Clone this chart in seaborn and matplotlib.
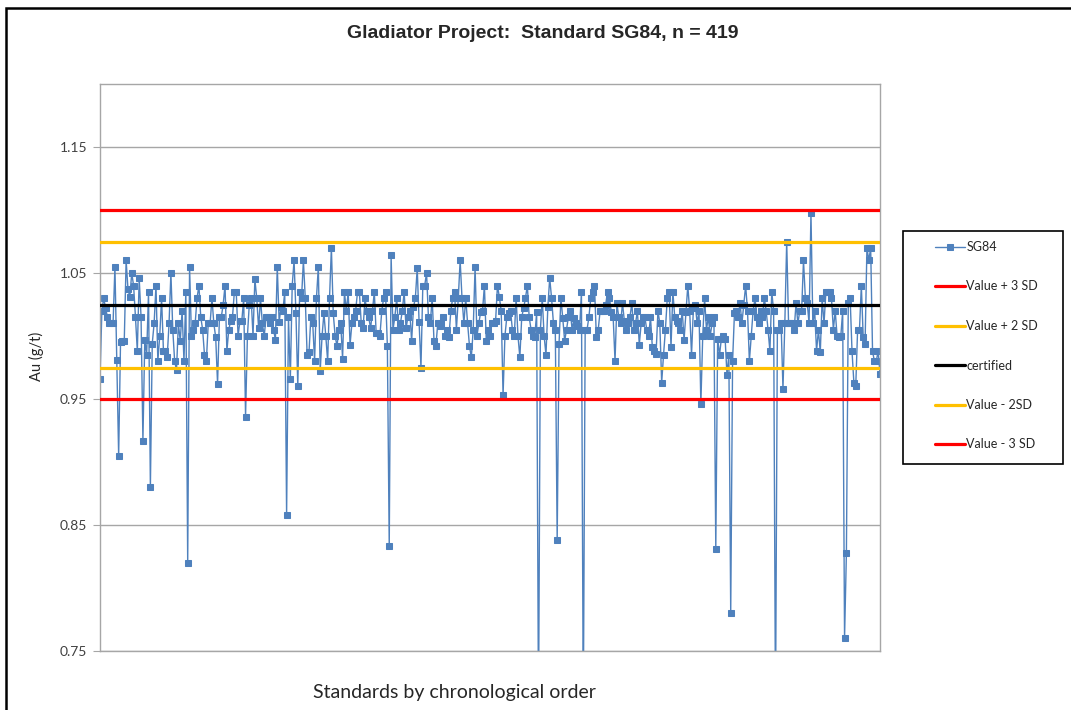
import numpy as np
import pandas as pd
import matplotlib
matplotlib.use('Agg')
import matplotlib.pyplot as plt
from matplotlib.patches import Rectangle
import seaborn as sns

# valori Au (g/t) dello standard SG84, in ordine cronologico
au_part1 = [0.966, 1.020, 1.030, 1.022, 1.015, 1.010, 1.010, 1.010, 1.055, 0.981,
            0.905, 0.995, 0.996, 0.996, 1.060, 1.037, 1.031, 1.050, 1.040, 1.015,
            0.988, 1.046, 1.015, 0.917, 0.997, 0.985, 1.035, 0.880, 0.994, 1.010,
            1.040, 0.980, 1.000, 1.030, 0.988, 0.988, 0.983, 1.010, 1.050, 1.005,
            0.980, 0.973, 1.010, 0.996, 1.020, 0.980, 1.035, 0.820, 1.055, 1.000,
            1.005, 1.010, 1.030, 1.040, 1.015, 1.005, 0.985, 0.980, 1.010, 1.010,
            1.030, 1.010, 0.999, 0.962, 1.015, 1.015, 1.025, 1.040, 0.988, 1.005]
au_part2 = [1.012, 1.015, 1.035, 1.035, 1.000, 1.012, 1.012, 1.030, 0.936, 1.000,
            1.025, 1.030, 1.000, 1.045, 1.030, 1.006, 1.030, 1.010, 1.000, 1.015,
            1.015, 1.010, 1.015, 1.005, 0.997, 1.055, 1.011, 1.023, 1.020, 1.035,
            0.858, 1.015, 0.966, 1.040, 1.060, 1.018, 0.960, 1.035, 1.030, 1.060,
            1.030, 0.985, 0.987, 1.015, 1.010, 0.980, 1.030, 1.055, 0.972, 1.000,
            1.018, 1.000, 0.980, 1.030, 1.070, 1.018, 1.000, 0.992, 1.005, 1.010,
            0.982, 1.035, 1.020, 1.035, 0.993, 1.010, 1.015, 1.020, 1.035, 1.035]
au_part3 = [1.010, 1.006, 1.030, 1.020, 1.015, 1.006, 1.020, 1.035, 1.002, 1.002,
            1.000, 1.020, 1.030, 1.035, 0.992, 0.833, 1.064, 1.005, 1.015, 1.030,
            1.005, 1.010, 1.020, 1.035, 1.006, 1.015, 1.020, 0.996, 1.023, 1.030,
            1.054, 1.011, 0.975, 1.040, 1.040, 1.050, 1.015, 1.010, 1.030, 0.996,
            0.992, 1.010, 1.008, 1.010, 1.015, 1.000, 1.005, 0.999, 1.020, 1.030,
            1.035, 1.005, 1.030, 1.060, 1.030, 1.010, 1.030, 1.010, 0.992, 0.983,
            1.005, 1.055, 1.000, 1.010, 1.019, 1.020, 1.040, 0.996, 1.005]
au_part4 = [1.000, 1.010, 1.010, 1.012, 1.040, 1.031, 1.020, 0.953, 1.000, 1.015, 1.018,
            1.020, 1.005, 1.000, 1.030, 1.000, 0.983, 1.015, 1.022, 1.030, 1.040,
            1.015, 1.005, 1.000, 0.999, 1.019, 0.700, 1.005, 1.030, 1.000, 0.985,
            1.023, 1.046, 1.030, 1.010, 1.005, 0.838, 0.994, 1.030, 1.014, 0.996,
            1.005, 1.015, 1.020, 1.005, 1.014, 1.010, 1.008, 1.005, 1.035, 0.700,
            1.005, 1.005, 1.015, 1.030, 1.035, 1.040, 0.999, 1.005, 1.020, 1.020,
            1.020, 1.025, 1.035, 1.030, 1.019, 1.015, 0.980, 1.026]
au_part5 = [1.015, 1.010, 1.026, 1.012, 1.005, 1.010, 1.015, 1.026, 1.005, 1.010,
            1.020, 0.993, 1.010, 1.015, 1.015, 1.005, 1.000, 1.015, 0.991, 0.988,
            0.986, 1.020, 1.010, 0.963, 0.985, 1.005, 1.030, 1.035, 0.991, 1.035,
            1.015, 1.012, 1.010, 1.005, 1.020, 0.997, 1.019, 1.040, 1.020, 0.985,
            1.022, 1.025, 1.010, 1.020, 0.946, 1.000, 1.030, 1.005, 1.015, 1.000,
            1.010, 1.015, 0.831, 0.998, 0.985, 0.998, 1.000, 0.998, 0.969, 0.985,
            0.780, 0.980, 1.018, 1.020, 1.015, 1.026, 1.010, 1.025, 1.040, 1.020,
            0.980]
au_part6 = [1.000, 1.020, 1.030, 1.015, 1.010, 1.020, 1.015, 1.030, 1.020, 1.005,
            0.988, 1.035, 1.020, 0.700, 1.005, 1.005, 1.010, 0.958, 1.010, 1.075,
            1.010, 1.010, 1.010, 1.005, 1.026, 1.010, 1.020, 1.020, 1.060, 1.030,
            1.026, 1.010, 1.098, 1.010, 1.020, 0.988, 1.005, 0.987, 1.030, 1.010,
            1.035, 1.035, 1.035, 1.030, 1.005, 1.020, 1.000, 0.999, 1.000, 1.020,
            0.760, 0.828, 1.026, 1.030, 0.988, 0.963, 0.960, 1.005, 1.005, 1.040,
            0.999, 0.994, 1.070, 1.060, 1.070, 0.988, 0.980, 0.980, 0.988, 0.970]
sg84 = au_part1 + au_part2 + au_part3 + au_part4 + au_part5 + au_part6

# linee di riferimento (certificato +/- SD)
ref_labels = ['Value + 3 SD', 'Value + 2 SD', 'certified', 'Value - 2SD', 'Value - 3 SD']
ref_values = [1.100, 1.075, 1.025, 0.975, 0.950]
ref_colors = ['#FF0000', '#FFC000', '#000000', '#FFC000', '#FF0000']
y_ticks = [0.75, 0.85, 0.95, 1.05, 1.15]

sns.set_style('white')
plt.rcParams['font.family'] = ['Lato', 'DejaVu Sans']

df = pd.DataFrame({'n': np.arange(len(sg84)), 'Au': sg84})

fig = plt.figure(figsize=(10.71, 7.10), dpi=100)
ax = fig.add_axes([100 / 1071, 1 - 651 / 710, 780 / 1071, 567 / 710])

sns.lineplot(data=df, x='n', y='Au', ax=ax, color='#4F81BD', lw=1.0,
             marker='s', markersize=4.5, markeredgecolor='#4F81BD',
             label='SG84', legend=False, zorder=2)

for v, c, lab in zip(ref_values, ref_colors, ref_labels):
    ax.axhline(v, color=c, lw=2.3, label=lab, zorder=3)

ax.set_xlim(0, len(sg84) - 1)
ax.set_ylim(0.75, 1.20)
ax.set_yticks(y_ticks)
ax.set_yticklabels([f'{t:.2f}' for t in y_ticks])
ax.set_xticks([])
ax.grid(axis='y', color='#A6A6A6', lw=1.0, zorder=0)
for s in ax.spines.values():
    s.set_color('#A6A6A6')
    s.set_linewidth(1.0)
ax.tick_params(axis='y', length=5, color='#A6A6A6', labelsize=10,
               labelcolor='#404040', pad=4, left=True)

ax.set_ylabel('Au (g/t)', fontsize=10.5, color='#262626')
ax.yaxis.set_label_coords(-0.072, 0.52)
ax.set_xlabel('Standards by chronological order', fontsize=14, color='#262626')
ax.xaxis.set_label_coords(0.455, -0.058)

fig.text(543 / 1071, 1 - 33 / 710, 'Gladiator Project:  Standard SG84, n = 419',
         ha='center', va='center', fontsize=14, fontweight='bold',
         family=['Liberation Sans Narrow', 'Liberation Sans', 'DejaVu Sans'])

# legenda con cornice disegnata a parte
handles, labels = ax.get_legend_handles_labels()
fig.legend(handles, labels, loc='upper left', bbox_to_anchor=(935 / 1071, 1 - 241 / 710),
           frameon=False, fontsize=9, labelspacing=2.2, handlelength=2.4,
           handletextpad=0.1, borderpad=0, borderaxespad=0)
fig.patches.append(Rectangle((903 / 1071, 1 - 464 / 710), 160 / 1071, 233 / 710,
                             transform=fig.transFigure, fill=False, ec='black', lw=1.2))

# cornice esterna del grafico
fig.patches.append(Rectangle((6 / 1071, -0.05), 1.1, 1.05 - 8 / 710,
                             transform=fig.transFigure, fill=False, ec='black', lw=1.8))

fig.savefig('out.png', dpi=100)
